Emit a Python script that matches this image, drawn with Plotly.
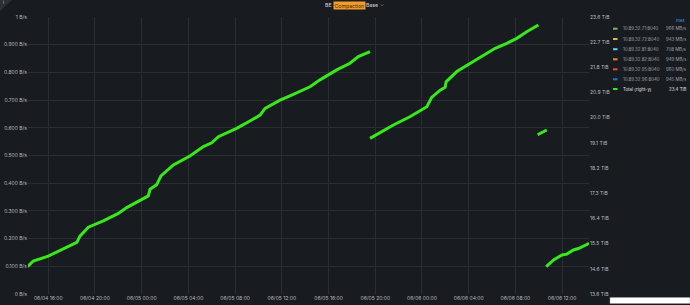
import plotly.graph_objects as go

# ---------------- data ----------------
seg1_time = ["2023-06-04 14:14", "2023-06-04 14:43", "2023-06-04 16:00", "2023-06-04 17:09",
             "2023-06-04 18:08", "2023-06-04 18:27", "2023-06-04 18:43", "2023-06-04 19:26",
             "2023-06-04 20:43", "2023-06-04 22:00", "2023-06-04 22:43", "2023-06-04 23:51",
             "2023-06-05 00:34", "2023-06-05 00:43", "2023-06-05 01:17", "2023-06-05 01:31",
             "2023-06-05 01:39", "2023-06-05 02:43", "2023-06-05 04:08", "2023-06-05 05:17",
             "2023-06-05 06:00", "2023-06-05 06:34", "2023-06-05 08:08", "2023-06-05 09:25",
             "2023-06-05 10:08", "2023-06-05 10:34", "2023-06-05 11:51", "2023-06-05 12:59",
             "2023-06-05 14:25", "2023-06-05 15:16", "2023-06-05 16:42", "2023-06-05 17:50",
             "2023-06-05 18:33", "2023-06-05 19:33"]
seg1_tib = [14.63, 14.83, 15.01, 15.25, 15.45, 15.50, 15.73, 16.05, 16.28, 16.55, 16.76, 17.00,
            17.18, 17.42, 17.58, 17.79, 17.90, 18.30, 18.62, 18.96, 19.10, 19.32, 19.62, 19.92,
            20.10, 20.34, 20.64, 20.85, 21.12, 21.37, 21.73, 21.97, 22.21, 22.39]

seg2_time = ["2023-06-05 19:33", "2023-06-05 21:33", "2023-06-05 22:58", "2023-06-06 00:25",
             "2023-06-06 00:50", "2023-06-06 01:33", "2023-06-06 01:59", "2023-06-06 02:04",
             "2023-06-06 02:59", "2023-06-06 04:41", "2023-06-06 06:16", "2023-06-06 07:16",
             "2023-06-06 08:07", "2023-06-06 08:58", "2023-06-06 09:58"]
seg2_tib = [19.26, 19.74, 20.04, 20.40, 20.74, 21.00, 21.10, 21.30, 21.67, 22.09, 22.51, 22.69,
            22.87, 23.11, 23.35]

seg3_time = ["2023-06-06 09:54", "2023-06-06 10:41"]
seg3_tib = [19.39, 19.56]

seg4_time = ["2023-06-06 10:38", "2023-06-06 11:16", "2023-06-06 11:59", "2023-06-06 12:24",
             "2023-06-06 12:58", "2023-06-06 13:24", "2023-06-06 14:19"]
seg4_tib = [14.63, 14.87, 15.05, 15.08, 15.23, 15.28, 15.47]

left_tickvals = [0, 0.1, 0.2, 0.3, 0.4, 0.5, 0.6, 0.7, 0.8, 0.9, 1.0]
left_ticktext = ["0 B/s", "0.100 B/s", "0.200 B/s", "0.300 B/s", "0.400 B/s", "0.500 B/s",
                 "0.600 B/s", "0.700 B/s", "0.800 B/s", "0.900 B/s", "1 B/s"]
right_range = [13.64, 23.64]
right_tickvals = [13.64 + i * 10 / 11 for i in range(12)]
right_ticktext = ["13.6 TiB", "14.6 TiB", "15.5 TiB", "16.4 TiB", "17.3 TiB", "18.2 TiB",
                  "19.1 TiB", "20.0 TiB", "20.9 TiB", "21.8 TiB", "22.7 TiB", "23.6 TiB"]

legend_names = ["10.89.32.71:8040", "10.89.32.72:8040", "10.89.32.81:8040",
                "10.89.32.82:8040", "10.89.32.95:8040", "10.89.32.96:8040", "Total (right-y)"]
legend_max = ["966 MB/s", "943 MB/s", "708 MB/s", "949 MB/s", "960 MB/s", "945 MB/s", "23.4 TiB"]
legend_colors = ["#7EB26D", "#EAB839", "#6ED0E0", "#EF843C", "#E24D42", "#1F78C1", "#37E81B"]

# ---------------- figure ----------------
W, H = 690, 305
L, R, T, B = 28, 101, 17, 11
PW, PH = W - L - R, H - T - B
BG = "#181b1f"
TXT = "#b8bac2"
FONT = "Inter"
FS = 5.0
LS = 4.4


def px(x):
    return (x - L) / PW


def py(y):
    return (H - B - y) / PH


x_all, y_all = [], []
for t, v in [(seg1_time, seg1_tib), (seg2_time, seg2_tib), (seg3_time, seg3_tib), (seg4_time, seg4_tib)]:
    x_all += t + [None]
    y_all += v + [None]

fig = go.Figure()
for name, c in zip(legend_names[:-1], legend_colors[:-1]):
    fig.add_trace(go.Scatter(x=[], y=[], mode="lines", name=name, line=dict(color=c), yaxis="y"))
fig.add_trace(go.Scatter(x=x_all, y=y_all, mode="lines", name="Total", yaxis="y2",
                         line=dict(color=legend_colors[-1], width=3), connectgaps=False))

fig.update_layout(
    width=W, height=H,
    margin=dict(l=L, r=R, t=T, b=B, autoexpand=False),
    paper_bgcolor=BG, plot_bgcolor=BG,
    showlegend=False,
    font=dict(family=FONT, size=FS, color=TXT),
    xaxis=dict(
        type="date", automargin=False,
        range=["2023-06-04 14:16", "2023-06-06 14:18"],
        tick0="2023-06-04 00:00", dtick=4 * 3600 * 1000,
        tickformat="%m/%d %H:%M",
        showgrid=True, gridcolor="#2a2d33", gridwidth=1,
        zeroline=False, showline=False, ticks="", ticklen=0,
        tickfont=dict(size=FS, color=TXT),
    ),
    yaxis=dict(
        automargin=False,
        range=[0, 1], tickvals=left_tickvals, ticktext=left_ticktext,
        showgrid=True, gridcolor="#2a2d33", gridwidth=1,
        zeroline=False, showline=False, ticks="", ticklen=0,
        tickfont=dict(size=FS, color=TXT),
    ),
    yaxis2=dict(
        automargin=False,
        range=right_range, tickvals=right_tickvals, ticktext=right_ticktext,
        overlaying="y", side="right", showgrid=False, zeroline=False, showline=False,
        ticks="", ticklen=0, tickfont=dict(size=FS, color=TXT),
    ),
)

annotations = []
shapes = []

TS = 5.2
annotations.append(dict(text="BE", x=px(333), y=py(5), xref="paper", yref="paper",
                        xanchor="right", yanchor="middle", showarrow=False, borderpad=0,
                        font=dict(size=TS, color="#d8d9de", family=FONT)))
annotations.append(dict(text="Compaction", x=px(333), y=py(5), xref="paper", yref="paper",
                        xanchor="left", yanchor="middle", showarrow=False, bgcolor="#f29b29",
                        borderpad=0.5, font=dict(size=TS, color="#3a2a10", family=FONT)))
annotations.append(dict(text="Base", x=px(363.5), y=py(5), xref="paper", yref="paper",
                        xanchor="left", yanchor="middle", showarrow=False,
                        font=dict(size=TS, color="#d8d9de", family=FONT)))
annotations.append(dict(text="⌄", x=px(377.5), y=py(4), xref="paper", yref="paper",
                        xanchor="left", yanchor="middle", showarrow=False,
                        font=dict(size=TS, color="#9a9ca3", family=FONT)))

annotations.append(dict(text="max", x=px(687), y=py(20), xref="paper", yref="paper",
                        xanchor="right", yanchor="middle", showarrow=False,
                        font=dict(size=LS, color="#4a9fe0", family=FONT)))
row_y = [28.7, 39.0, 49.2, 59.3, 69.3, 79.3, 89.0]
for i, (n, m, c) in enumerate(zip(legend_names, legend_max, legend_colors)):
    yy = row_y[i]
    shapes.append(dict(type="rect", xref="paper", yref="paper",
                       x0=px(613), x1=px(617.5), y0=py(yy - 1), y1=py(yy + 1),
                       fillcolor=c, line=dict(width=0)))
    col = "#e0e1e6" if i == 6 else "#a0a2aa"
    annotations.append(dict(text=n, x=px(620.5), y=py(yy), xref="paper", yref="paper",
                            xanchor="left", yanchor="middle", showarrow=False,
                            font=dict(size=LS, color=col, family=FONT)))
    annotations.append(dict(text=m, x=px(689), y=py(yy), xref="paper", yref="paper",
                            xanchor="right", yanchor="middle", showarrow=False,
                            font=dict(size=LS, color=col, family=FONT)))

shapes.append(dict(type="path", xref="paper", yref="paper",
                   path=f"M {px(0)} {py(0)} L {px(12)} {py(0)} L {px(0)} {py(11)} Z",
                   fillcolor="#2c2f35", line=dict(width=0)))
annotations.append(dict(text="i", x=px(3), y=py(2.5), xref="paper", yref="paper",
                        xanchor="center", yanchor="middle", showarrow=False,
                        font=dict(size=4, color="#c8c9ce", family=FONT)))

shapes.append(dict(type="rect", xref="paper", yref="paper",
                   x0=px(610), x1=px(690), y0=py(303.5), y1=py(297.5),
                   fillcolor="#ffffff", line=dict(width=0.5, color="#9a9ca3")))

fig.update_layout(annotations=annotations, shapes=shapes)
fig.write_html("out.html")
